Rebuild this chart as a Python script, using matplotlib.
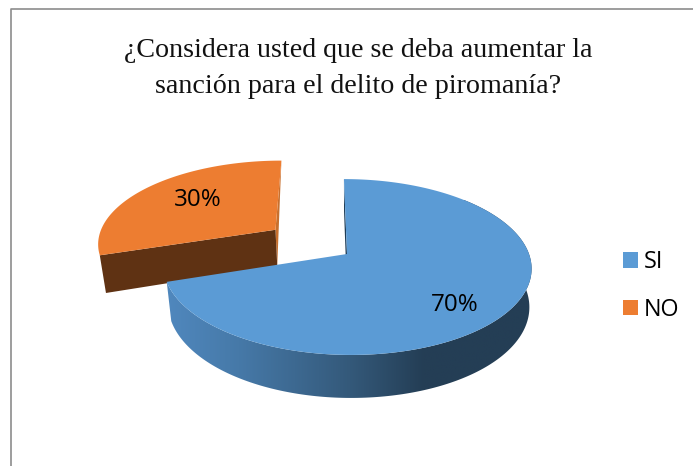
import numpy as np
import matplotlib
matplotlib.use('Agg')
import matplotlib.pyplot as plt
from matplotlib.patches import Patch, Polygon
from matplotlib.colors import LinearSegmentedColormap

categories = ['SI', 'NO']
values = [70, 30]
colors = ['#5B9BD5', '#ED7D31']
title = '¿Considera usted que se deba aumentar la\nsanción para el delito de piromanía?'

# fake 3D pie, everything is in image pixels (y goes down)
cx, cy = 347, 254
rx, ry = 182, 86
persp = 0.148
skew = -3.5


def top_face(u, v):
    w = 1 + persp * v
    return cx + (rx * u + skew * v) / w, cy - ry * v / w


def bottom_face(u, v):
    x, y = top_face(u, v)
    shrink = np.where(x > cx, 0.988, 0.975)
    return cx + (x - cx) * shrink, y + 37.6 - 5.4 * v


def disc(a0, a1, off=(0, 0), n=120):
    # angles are clockwise from the top, like a pie starting at 12 o'clock
    a = np.radians(np.linspace(a0, a1, n))
    return np.sin(a) + off[0], np.cos(a) + off[1]


fig = plt.figure(figsize=(6.93, 4.66), dpi=100)
ax = fig.add_axes([0, 0, 1, 1])
ax.set_xlim(0, 693)
ax.set_ylim(466, 0)
ax.axis('off')

# chart frame, open at the bottom
ax.plot([11, 11, 693], [466, 8.5, 8.5], color='#8c8c8c', lw=1.2)

ax.text(358, 68.5, title, family='Liberation Serif', fontsize=20.2, ha='center',
        va='center', linespacing=1.55, color='#111111')

split = values[0] / sum(values) * 360

# orange slice, pushed out from the centre
mid = np.radians((split + 360) / 2)
off = (0.5 * np.sin(mid), 0.5 * np.cos(mid))
u, v = disc(split, 360, off)
ou, ov = off
# cut faces first, top face over them
back = [top_face(u[-1], v[-1]), top_face(ou, ov), bottom_face(ou, ov)]
ax.add_patch(Polygon(back, color='#c8702e', lw=0))
front = [top_face(u[0], v[0]), top_face(ou, ov), bottom_face(ou, ov), bottom_face(u[0], v[0])]
ax.add_patch(Polygon(front, color='#5f3213', lw=0))
x, y = top_face(np.r_[ou, u], np.r_[ov, v])
ax.add_patch(Polygon(np.c_[x, y], color=colors[1], lw=0))

# blue slice: inner wall, rim with a gradient, then the top
a_wall = [top_face(0, 1), top_face(0, 0), bottom_face(0, 0), bottom_face(0, 1)]
ax.add_patch(Polygon(a_wall, color='#1f3d57', lw=0))

u, v = disc(45, split, n=200)
tx, ty = top_face(u, v)
bx, by = bottom_face(u, v)
rim = Polygon(np.r_[np.c_[tx, ty], np.c_[bx, by][::-1]], fc='none', lw=0)
ax.add_patch(rim)
cmap = LinearSegmentedColormap.from_list('rim', [(0, '#243e55'), (0.3, '#243e55'), (0.5, '#34597a'),
                                                 (0.8, '#4679a8'), (1, '#5088be')])
grad = np.linspace(0, 1, 256)[None, :]
im = ax.imshow(grad[:, ::-1], cmap=cmap, extent=[165, 535, 405, 200], aspect='auto', zorder=2)
im.set_clip_path(rim)
ax.set_xlim(0, 693)
ax.set_ylim(466, 0)

u, v = disc(0, split, n=300)
x, y = top_face(np.r_[0, u], np.r_[0, v])
ax.add_patch(Polygon(np.c_[x, y], color=colors[0], lw=0, zorder=3))

ax.text(455, 305, f'{values[0]}%', family='Open Sans', fontsize=17.4, ha='center', va='center', zorder=4)
ax.text(198, 200, f'{values[1]}%', family='Open Sans', fontsize=17.4, ha='center', va='center', zorder=4)

handles = [Patch(color=c, lw=0) for c in colors]
fig.legend(handles, categories, loc='center left', bbox_to_anchor=(623 / 693, 1 - 286 / 466),
           frameon=False, prop={'family': 'Open Sans', 'size': 16.8}, handlelength=0.65,
           handleheight=0.65, handletextpad=0.25, labelspacing=1.0, borderpad=0.0,
           borderaxespad=0.0)

fig.savefig('out.png', dpi=100)
